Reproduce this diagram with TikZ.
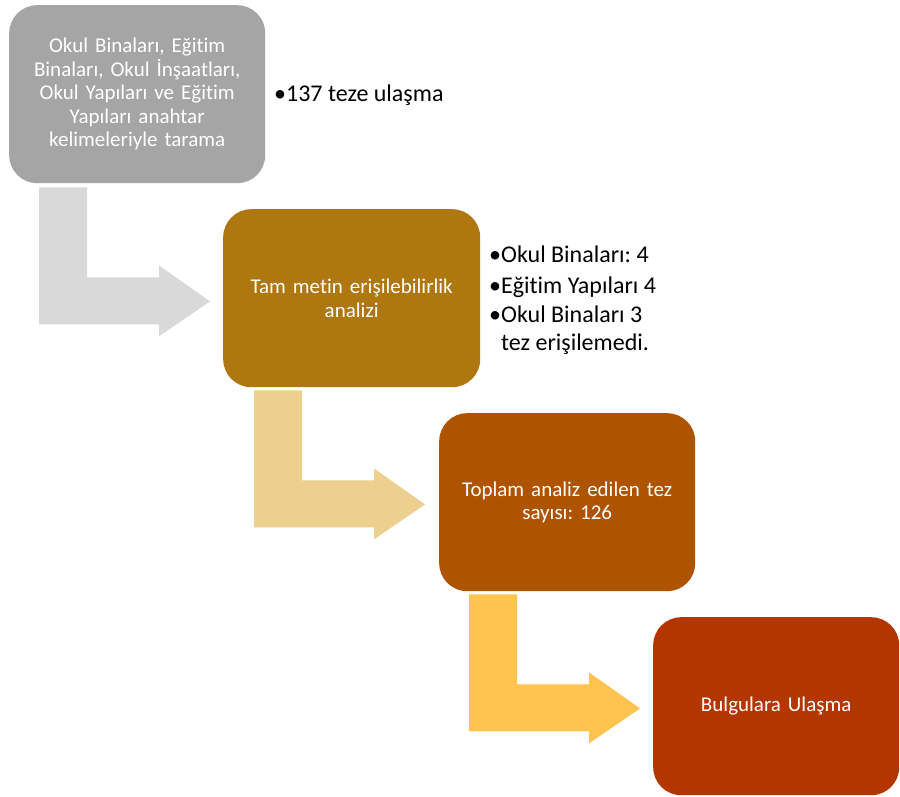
\documentclass[tikz,border=0pt]{standalone}
\usepackage{fontspec}
\setmainfont[Ligatures=NoCommon]{Carlito}
\usetikzlibrary{calc}
\definecolor{boxgrey}{HTML}{A5A5A5}
\definecolor{boxgold}{HTML}{AE770F}
\definecolor{boxrust}{HTML}{AE5300}
\definecolor{boxred}{HTML}{B33600}
\definecolor{arrgrey}{HTML}{D9D9D9}
\definecolor{arrtan}{HTML}{EDCF8E}
\definecolor{arryellow}{HTML}{FFC34F}
\tikzset{
  stepbox/.style={rounded corners=28pt, minimum height=178pt, inner sep=0pt,
    anchor=north west, text=white, align=center, text width=236pt,
    font=\fontsize{21}{23.5}\selectfont\frenchspacing},
  sidetext/.style={anchor=base west, inner sep=0pt, text=black,
    font=\fontsize{24}{29.5}\selectfont\frenchspacing},
}
\newcommand{\bentarrow}[2]{%
  \fill[#2] (#1) -- ++(48,0) -- ++(0,90) -- ++(72,0) -- ++(0,-12) -- ++(51,36)
    -- ++(-51,35) -- ++(0,-12) -- ++(-120,0) -- cycle;}
\begin{document}
\begin{tikzpicture}[x=1pt,y=-1pt]
\path[use as bounding box, fill=white] (0,0) rectangle (900,796);
\node[stepbox, fill=boxgrey, minimum width=256pt] (b1) at (9,5)
  {Okul Binaları, Eğitim\\Binaları, Okul İnşaatları,\\Okul Yapıları ve Eğitim\\Yapıları anahtar\\kelimeleriyle tarama};
\node[stepbox, fill=boxgold, minimum width=257pt] (b2) at (223,209)
  {Tam metin erişilebilirlik\\analizi};
\node[stepbox, fill=boxrust, minimum width=256pt] (b3) at (439,413)
  {Toplam analiz edilen tez\\sayısı: 126};
\node[stepbox, fill=boxred, minimum width=246pt] (b4) at (653,617)
  {Bulgulara Ulaşma};
\coordinate (a1) at ($(b1.south west)+(30,4)$);
\coordinate (a2) at ($(b2.south west)+(31,3)$);
\coordinate (a3) at ($(b3.south west)+(30,3)$);
\bentarrow{a1}{arrgrey}
\bentarrow{a2}{arrtan}
\bentarrow{a3}{arryellow}
\node[sidetext] (s1) at (274,101) {•137 teze ulaşma};
\node[sidetext] (s2a) at (489,262) {•Okul Binaları: 4};
\node[sidetext] (s2b) at (489,293) {•Eğitim Yapıları 4};
\node[sidetext] (s2c) at (489,322) {•Okul Binaları 3};
\node[sidetext] (s2d) at (489,350) {\hphantom{•}tez erişilemedi.};
\end{tikzpicture}
\end{document}
